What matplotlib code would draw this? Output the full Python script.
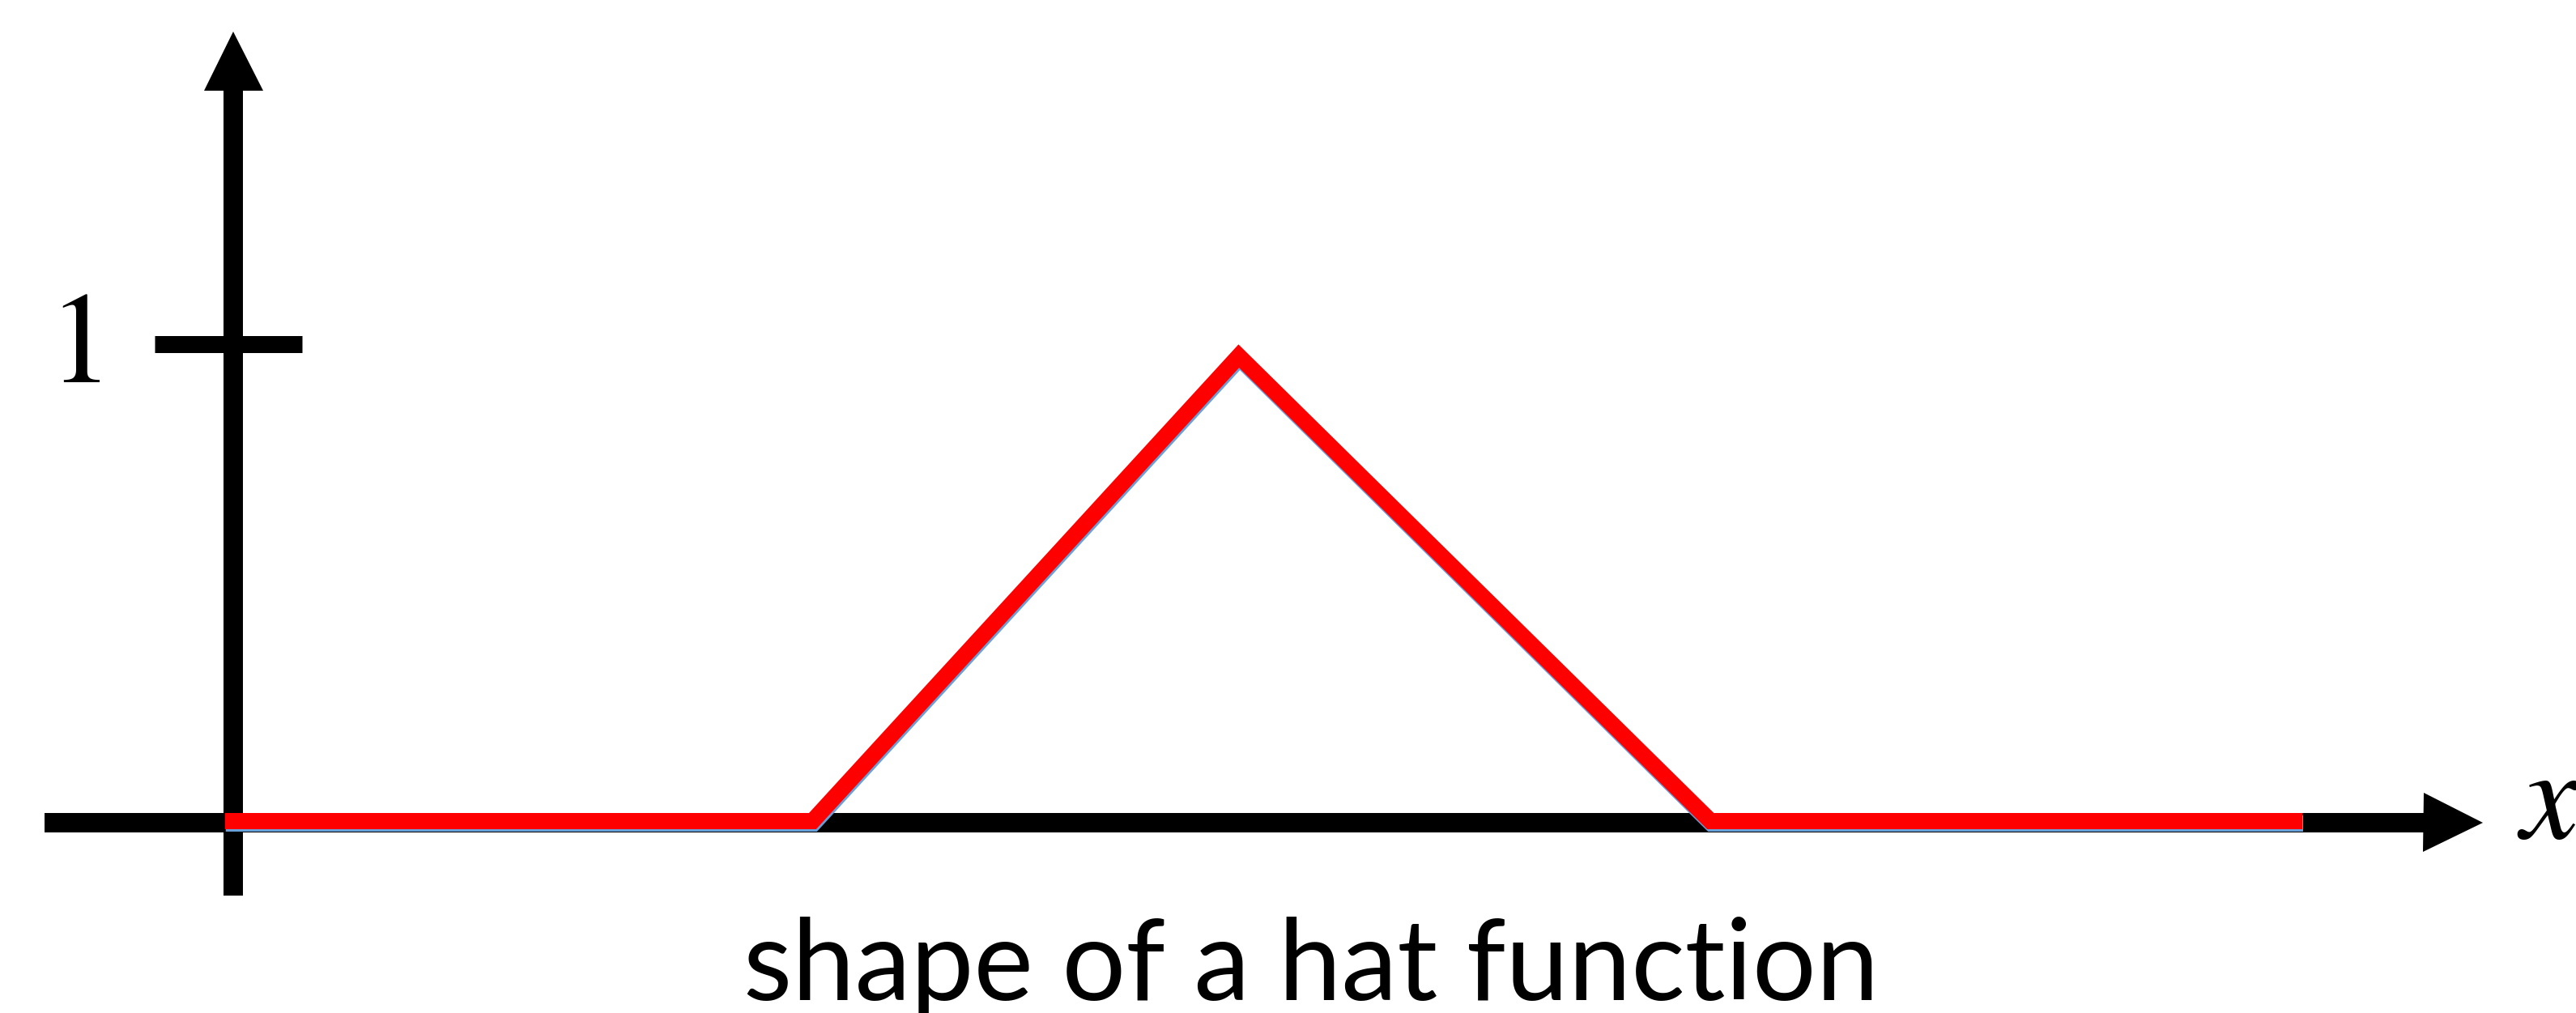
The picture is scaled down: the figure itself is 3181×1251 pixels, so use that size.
import matplotlib.pyplot as plt
from matplotlib import transforms

plt.rcParams['mathtext.fontset'] = 'stix'

# hat function nodes
hat_x = [-0.02, 1.40, 2.43, 3.57, 5.00]
hat_y = [0.0, 0.0, 0.975, 0.0, 0.0]
y_ticks = [1]
y_tick_labels = ['$1$']
x_label = '$x$'
caption = 'shape of a hat function'

W, H, DPI = 3181, 1251, 100
UX, UY = 511.0, 589.0          # pixels per data unit
OX, OY = 288, 1014             # origin in pixels (from top-left)


def pt(px):
    return px * 72.0 / DPI


fig = plt.figure(figsize=(W / DPI, H / DPI), dpi=DPI)
ax = fig.add_axes([0, 0, 1, 1])
ax.set_xlim(-OX / UX, (W - OX) / UX)
ax.set_ylim(-(H - OY) / UY, OY / UY)
ax.axis('off')

# axes as arrows
x_axis_y = -2 / UY
x_start, x_tip = (55 - OX) / UX, (3065 - OX) / UX
y_start, y_tip = (OY - 1106) / UY, (OY - 38) / UY
head_px = 73
ax.plot([x_start, x_tip - head_px / UX + 0.01], [x_axis_y, x_axis_y],
        color='black', lw=pt(24), solid_capstyle='butt', zorder=1)
ax.plot(x_tip - head_px / 2 / UX, x_axis_y, marker='>', ms=pt(head_px),
        color='black', mew=0, zorder=1)
ax.plot([0, 0], [y_start, y_tip - head_px / UY + 0.01],
        color='black', lw=pt(24), solid_capstyle='butt', zorder=1)
ax.plot(0, y_tip - head_px / 2 / UY, marker='^', ms=pt(head_px),
        color='black', mew=0, zorder=1)

# tick mark and label on the y axis
for v, lab in zip(y_ticks, y_tick_labels):
    ax.plot([(191 - OX) / UX, (373 - OX) / UX], [v, v], color='black',
            lw=pt(21), solid_capstyle='butt', zorder=1)
    ax.text((124 - OX) / UX, v - 47 / UY, lab, fontsize=115,
            ha='right', va='baseline', color='black')

ax.text((3108 - OX) / UX, (OY - 1035) / UY, x_label, fontsize=116,
        ha='left', va='baseline', color='black')

# hat function: thin blue line underneath, red on top
shift = transforms.ScaledTranslation(1 / DPI, -3 / DPI, fig.dpi_scale_trans)
ax.plot(hat_x, hat_y, color='#6a9fd8', lw=pt(20), solid_joinstyle='miter',
        solid_capstyle='butt', transform=ax.transData + shift, zorder=2)
ax.plot(hat_x, hat_y, color='#ff0000', lw=pt(20), solid_joinstyle='miter',
        solid_capstyle='butt', zorder=3)

fig.text(1619 / W, 16 / H, caption, fontsize=100, family='Lato',
         ha='center', va='baseline', color='black')

fig.savefig('out.png', dpi=DPI, facecolor='white')
